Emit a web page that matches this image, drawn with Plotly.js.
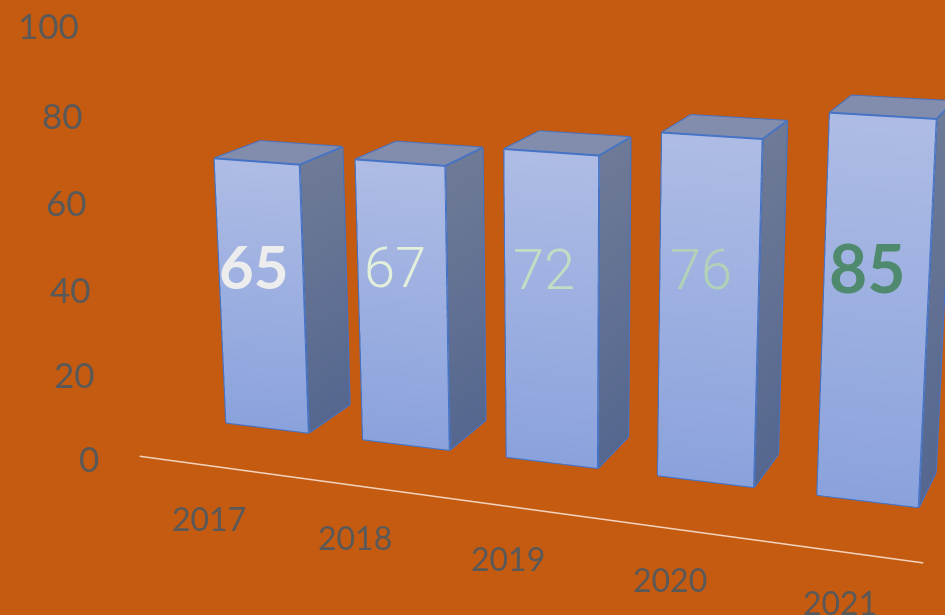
<!DOCTYPE html>
<html>
<head>
<meta charset="utf-8">
<script src="https://cdn.plot.ly/plotly-3.0.1.min.js"></script>
<style>
html,body{margin:0;padding:0;background:#C55A11;overflow:hidden;width:945px;height:615px}
#wrap{position:absolute;left:0;top:0;width:945px;height:615px;overflow:hidden}
#chart{position:absolute;left:4px;top:-554px;width:1127px;height:1715px}
</style>
</head>
<body>
<div id="wrap"><div id="chart"></div></div>
<script>
var categories = ['2017','2018','2019','2020','2021'];
var values = [65,67,72,76,85];
var barHeights = [65.5,67.7,72.5,78.5,85];
var valueLabelColors = ['#EDEDED','#E2EFDA','#C3DCC4','#B2D1B8','#4F8A6E'];
var valueLabelWeights = [700,300,300,300,700];
var valueLabelFonts = ['Lato','Roboto','Roboto','Roboto','Lato'];
var valueLabelSizes = [60,56,56,56,66];
var valueLabelRaise = [11,18,18,22,16];
var yTicks = [0,20,40,60,80,100];
var yTickHeights = [0,20.2,40.4,60.4,80.2,100];

var barHalf = 0.305, yFront = 2.715, yBack = 2.865, yAxisLine = 2.53, depthShear = -0.0066, axisShear = -0.0097;
function depth(y,x){return y+depthShear*x;}
var xs=[],ys=[],zs=[],ii=[],jj=[],kk=[],vc=[];
function quad(p,c){
  var n=xs.length;
  p.forEach(function(q,m){xs.push(q[0]);ys.push(depth(q[1],q[0]));zs.push(q[2]);vc.push(c[m]);});
  ii.push(n,n);jj.push(n+1,n+2);kk.push(n+2,n+3);
}
var edgeX=[],edgeY=[],edgeZ=[];
function edge(a,b){edgeX.push(a[0],b[0],null);edgeY.push(depth(a[1],a[0]),depth(b[1],b[0]),null);edgeZ.push(a[2],b[2],null);}
barHeights.forEach(function(v,n){
  var l=n-barHalf,r=n+barHalf;
  var A=[l,yFront,0],B=[r,yFront,0],C=[r,yFront,v],D=[l,yFront,v];
  var E=[r,yBack,0],F=[r,yBack,v],G=[l,yBack,v];
  quad([A,B,C,D],['#8AA2DC','#8AA2DC','#AEBCE5','#AEBCE5']);
  quad([B,E,F,C],['#55678F','#55678F','#6E7A96','#6E7A96']);
  quad([D,C,F,G],['#828DAD','#828DAD','#828DAD','#828DAD']);
  [[A,B],[B,C],[C,D],[D,A],[B,E],[E,F],[F,C],[F,G],[G,D]].forEach(function(e){edge(e[0],e[1]);});
});
var bars={type:'mesh3d',x:xs,y:ys,z:zs,i:ii,j:jj,k:kk,vertexcolor:vc,flatshading:false,
  lighting:{ambient:1,diffuse:0,specular:0,roughness:1,fresnel:0},hoverinfo:'skip',showscale:false};
var edges={type:'scatter3d',mode:'lines',x:edgeX,y:edgeY,z:edgeZ,line:{color:'#4472C4',width:4},hoverinfo:'skip',showlegend:false};
var axisEnds=[-0.505,categories.length-0.53];
var axisLine={type:'scatter3d',mode:'lines',x:axisEnds,y:axisEnds.map(function(x){return yAxisLine+axisShear*x;}),z:[0,0],line:{color:'#F2D3BE',width:3},hoverinfo:'skip',showlegend:false};

var anns=[];
var fontFamily='Lato, "Open Sans", sans-serif';
yTicks.forEach(function(t,n){
  anns.push({x:-0.705+0.0004*t,y:2.505,z:yTickHeights[n],yshift:1.5,text:String(t),showarrow:false,xanchor:'right',yanchor:'middle',font:{family:fontFamily,size:35,color:'#595959'}});
});
categories.forEach(function(c,n){
  anns.push({x:0.435+0.928*n,y:2.339-0.0032*n,z:0,text:c,showarrow:false,xanchor:'center',yanchor:'middle',font:{family:fontFamily,size:32,color:'#595959'}});
});
values.forEach(function(v,n){
  anns.push({x:n-0.05,y:depth(yFront,n),z:v*0.575,yshift:valueLabelRaise[n],text:String(v),showarrow:false,xanchor:'center',yanchor:'middle',font:{family:valueLabelFonts[n],size:valueLabelSizes[n],color:valueLabelColors[n],weight:valueLabelWeights[n]}});
});

function hidden(range){return {visible:false,range:range,showgrid:false,zeroline:false,showbackground:false,showspikes:false,showticklabels:false,title:{text:''}};}
var layout={width:1127,height:1715,margin:{l:0,r:0,t:0,b:0},paper_bgcolor:'#C55A11',plot_bgcolor:'#C55A11',showlegend:false,
  scene:{domain:{x:[0,1],y:[0,1]},bgcolor:'#C55A11',aspectmode:'manual',aspectratio:{x:1.51515,y:0.8,z:0.646},
    xaxis:hidden([-1.5,5]),yaxis:hidden([2.2,3.0]),zaxis:hidden([-1,101]),
    camera:{eye:{x:0.98968,y:-2.6,z:0.6832},center:{x:0.0666,y:0.1483,z:-0.0878},up:{x:0,y:0,z:1},projection:{type:'perspective'}},
    annotations:anns}};
Plotly.newPlot('chart',[bars,edges,axisLine],layout,{displayModeBar:false});
</script>
</body>
</html>
